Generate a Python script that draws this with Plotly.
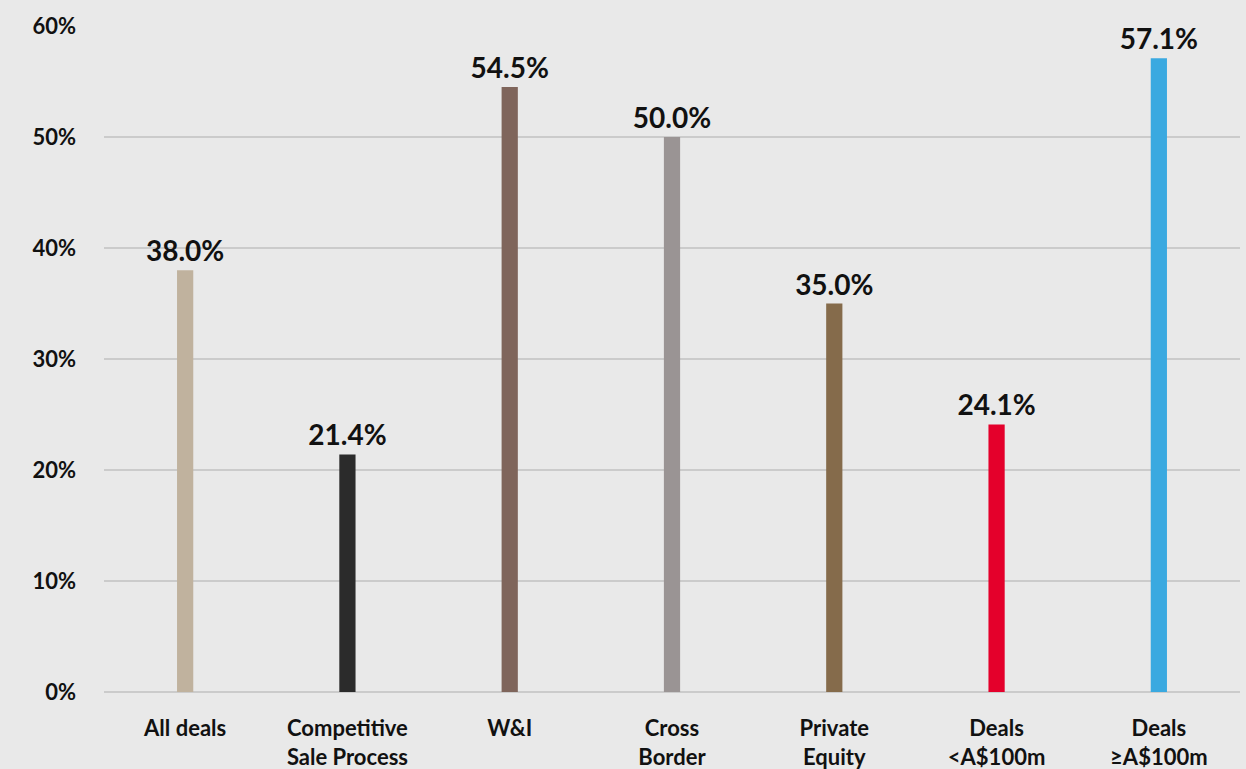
import plotly.graph_objects as go

categories = ["All deals", "Competitive<br>Sale Process", "W&I", "Cross<br>Border",
              "Private<br>Equity", "Deals<br><A$100m", "Deals<br>≥A$100m"]
values = [38.0, 21.4, 54.5, 50.0, 35.0, 24.1, 57.1]
colors = ["#c0b29e", "#2b2b2b", "#7f655b", "#9a9494", "#856b4b", "#e4002b", "#3aa9e0"]
y_ticks = [0, 10, 20, 30, 40, 50, 60]
y_tick_labels = [f"{t}%" for t in y_ticks]

FONT = "Lato, 'Open Sans', sans-serif"

fig = go.Figure(go.Bar(
    x=categories, y=values,
    marker=dict(color=colors, line=dict(width=0)),
    width=0.1,
    text=[f"{v:.1f}%" for v in values],
    textposition="outside",
    constraintext="none",
    textfont=dict(size=28, color="#111111", family=FONT, weight="bold"),
    cliponaxis=False,
))

fig.update_layout(
    width=1246, height=769,
    paper_bgcolor="#e9e9e9", plot_bgcolor="#e9e9e9",
    margin=dict(l=104, r=6, t=26, b=77),
    font=dict(family=FONT, size=22, color="#111111", weight="bold"),
    showlegend=False,
    xaxis=dict(showgrid=False, showline=False, ticks="", tickfont=dict(size=22, weight="bold"),
               ticklabelstandoff=21, automargin=False),
    yaxis=dict(range=[0, 60], tickvals=y_ticks, ticktext=y_tick_labels,
               gridcolor="#cbcbcb", gridwidth=1.5, zeroline=True, zerolinecolor="#cbcbcb",
               zerolinewidth=1.5, showline=False, ticks="", automargin=False,
               tickfont=dict(size=22, weight="bold"), ticklabelstandoff=27),
)

fig.write_html("out.html", config={"displayModeBar": False},
               post_script="document.body.style.margin='0';document.body.style.background='#e9e9e9';")
